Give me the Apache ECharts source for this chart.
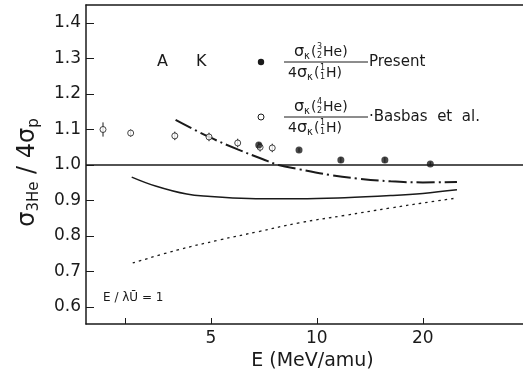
<!DOCTYPE html>
<html>
<head>
<meta charset="utf-8">
<script src="https://cdn.jsdelivr.net/npm/echarts@6/dist/echarts.min.js"></script>
<style>
  html, body { margin: 0; padding: 0; background: #fff; }
  #chart { width: 523px; height: 384px; }
</style>
</head>
<body>
<div id="chart"></div>
<script>
// energy range of the axis (MeV/amu), plotted on a log2 scale
const eMin = 2.21;
const eMax = 38.5;
const xTickLabels = [5, 10, 20];
const yTickLabels = [0.6, 0.7, 0.8, 0.9, 1.0, 1.1, 1.2, 1.3, 1.4];

// theory curves
const dashDotE = [3.97, 4.94, 5.96, 7.0, 7.78, 8.9, 10.9, 13.0, 16.2, 20.0, 25.0];
const dashDotR = [1.127, 1.079, 1.044, 1.017, 1.0, 0.988, 0.972, 0.962, 0.954, 0.951, 0.952];
const solidE = [2.98, 3.5, 4.27, 5.0, 5.77, 7.0, 8.9, 12.0, 16.2, 20.0, 25.0];
const solidR = [0.966, 0.940, 0.918, 0.911, 0.907, 0.905, 0.905, 0.908, 0.914, 0.920, 0.930];
const dottedE = [3.0, 4.0, 5.3, 6.8, 8.9, 12.0, 16.2, 20.0, 25.0];
const dottedR = [0.724, 0.760, 0.789, 0.812, 0.837, 0.858, 0.879, 0.893, 0.907];

// measurements
const presentE = [6.84, 8.9, 11.7, 15.6, 21.0];
const presentR = [1.056, 1.042, 1.014, 1.014, 1.003];
const presentErr = [0.008, 0.006, 0.008, 0.008, 0.006];
const basbasE = [2.47, 2.96, 3.95, 4.94, 5.96, 6.9, 7.47];
const basbasR = [1.100, 1.090, 1.082, 1.079, 1.062, 1.050, 1.048];
const basbasErr = [0.020, 0.010, 0.012, 0.012, 0.012, 0.012, 0.012];

const lg = Math.log2;
const FONT = 'DejaVu Sans';
const INK = '#1a1a1a';

function pairs(es, rs) {
    return es.map((e, i) => [lg(e), rs[i]]);
}
function bars(es, rs, errs) {
    return es.map((e, i) => [lg(e), rs[i] - errs[i], rs[i] + errs[i]]);
}

const errorBar = {
    type: 'custom',
    renderItem(params, api) {
        const lo = api.coord([api.value(0), api.value(1)]);
        const hi = api.coord([api.value(0), api.value(2)]);
        return {
            type: 'line',
            shape: { x1: lo[0], y1: lo[1], x2: hi[0], y2: hi[1] },
            style: { stroke: INK, lineWidth: 1 }
        };
    },
    encode: { x: 0, y: [1, 2] },
    z: 1
};

// text helpers for the legend fractions
function txt(x, y, s, size, extra) {
    return {
        type: 'text', x: x, y: y,
        style: Object.assign({
            text: s, fontFamily: FONT, fontSize: size, fill: INK,
            verticalAlign: 'middle', align: 'left'
        }, extra || {})
    };
}
function nuclide(x, y, pre, mass, z, sym) {
    let els = [];
    let cx = x;
    if (pre) { els.push(txt(cx, y, pre, 14)); cx += 9; }
    els.push(txt(cx, y, 'σ', 16));
    els.push(txt(cx + 10, y + 4, 'κ', 10));
    els.push(txt(cx + 17, y, '(', 14));
    els.push(txt(cx + 23, y - 5, mass, 8));
    els.push(txt(cx + 23, y + 4, z, 8));
    els.push(txt(cx + 29, y, sym + ')', 14));
    return els;
}
function fraction(x, y, mass, sym, w) {
    let els = [];
    els = els.concat(nuclide(x + 10, y - 10, '', mass, '2', sym));
    els.push({ type: 'line', shape: { x1: x, y1: y, x2: x + w, y2: y }, style: { stroke: INK, lineWidth: 1 } });
    els = els.concat(nuclide(x + 4, y + 11, '4', '1', '1', 'H'));
    return els;
}

const legendEls = [].concat(
    [txt(157, 62, 'A', 16), txt(196, 62, 'K', 16)],
    [{ type: 'circle', shape: { cx: 261, cy: 62, r: 3.2 }, style: { fill: INK } }],
    fraction(284, 62, '3', 'He', 84),
    [txt(369, 62, 'Present', 15)],
    [{ type: 'circle', shape: { cx: 261, cy: 117, r: 3 }, style: { fill: '#fff', stroke: INK, lineWidth: 1 } }],
    fraction(284, 117, '4', 'He', 84),
    [txt(369, 117, '·Basbas  et  al.', 15)],
    [txt(103, 298, 'E / λŪ = 1', 12)]
);

const chart = echarts.init(document.getElementById('chart'));
chart.setOption({
    backgroundColor: '#fff',
    animation: false,
    grid: { left: 86, top: 5, right: 0, bottom: 60 },
    xAxis: [{
        type: 'value',
        min: lg(eMin),
        max: lg(eMax),
        name: 'E (MeV/amu)',
        nameLocation: 'middle',
        nameGap: 27,
        nameTextStyle: { fontFamily: FONT, fontSize: 19, color: INK, padding: [0, 0, 0, 16] },
        axisLine: { lineStyle: { color: INK, width: 1.5 } },
        axisTick: {
            inside: true, length: 6,
            customValues: [lg(2.85)].concat(xTickLabels.map(lg)),
            lineStyle: { color: INK, width: 1 }
        },
        axisLabel: {
            customValues: xTickLabels.map(lg),
            formatter: v => String(Math.round(Math.pow(2, v))),
            fontFamily: FONT, fontSize: 17, color: INK, margin: 6
        },
        splitLine: { show: false }
    }, {
        type: 'value',
        position: 'top',
        min: lg(eMin),
        max: lg(eMax),
        axisLine: { lineStyle: { color: INK, width: 1.5 } },
        axisTick: { show: false },
        axisLabel: { show: false },
        splitLine: { show: false }
    }],
    yAxis: {
        type: 'value',
        min: 0.5521,
        max: 1.4507,
        name: '{s|σ}{sub|3He}{s| / 4σ}{sub|p}',
        nameLocation: 'middle',
        nameGap: 44,
        nameTextStyle: {
            fontFamily: FONT, color: INK,
            padding: [0, 16, 0, 0],
            rich: {
                s: { fontFamily: FONT, fontSize: 24, color: INK, lineHeight: 28 },
                sub: { fontFamily: FONT, fontSize: 15, color: INK, verticalAlign: 'bottom', lineHeight: 19 }
            }
        },
        axisLine: { lineStyle: { color: INK, width: 1.5 } },
        axisTick: {
            inside: true, length: 8,
            customValues: yTickLabels,
            lineStyle: { color: INK, width: 1 }
        },
        axisLabel: {
            customValues: yTickLabels,
            formatter: v => v.toFixed(1),
            fontFamily: FONT, fontSize: 17, color: INK, margin: 5
        },
        splitLine: { show: false }
    },
    graphic: legendEls,
    series: [
        {
            type: 'line',
            data: pairs(solidE, solidR),
            smooth: 0.4,
            showSymbol: false,
            lineStyle: { color: INK, width: 1.5 },
            markLine: {
                silent: true,
                symbol: 'none',
                label: { show: false },
                lineStyle: { color: INK, width: 1.5, type: 'solid' },
                data: [{ yAxis: 1.0 }]
            }
        },
        {
            type: 'line',
            data: pairs(dashDotE, dashDotR),
            smooth: 0.4,
            showSymbol: false,
            lineStyle: { color: INK, width: 2, type: [18, 4, 2, 4] }
        },
        {
            type: 'line',
            data: pairs(dottedE, dottedR),
            smooth: 0.4,
            showSymbol: false,
            lineStyle: { color: INK, width: 1.3, type: [2.5, 4] }
        },
        Object.assign({ data: bars(basbasE, basbasR, basbasErr) }, errorBar),
        Object.assign({ data: bars(presentE, presentR, presentErr) }, errorBar),
        {
            type: 'scatter',
            data: pairs(basbasE, basbasR),
            symbol: 'circle',
            symbolSize: 6,
            itemStyle: { color: '#fff', borderColor: INK, borderWidth: 1 },
            z: 3
        },
        {
            type: 'scatter',
            data: pairs(presentE, presentR),
            symbol: 'circle',
            symbolSize: 7,
            itemStyle: { color: INK },
            z: 4
        }
    ]
});
</script>
</body>
</html>
